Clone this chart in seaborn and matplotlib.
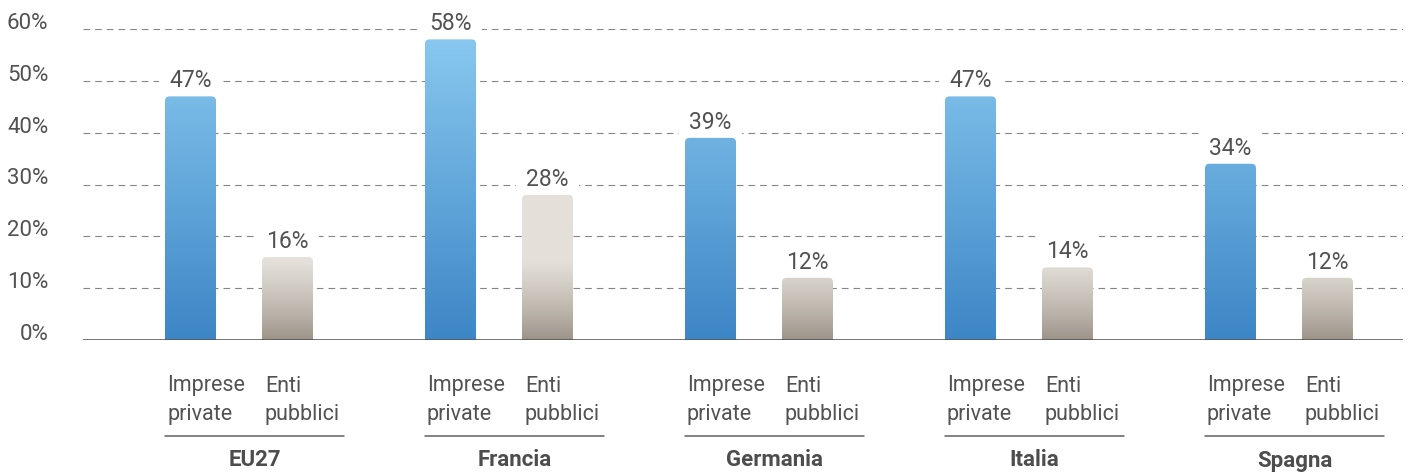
import numpy as np
import pandas as pd
import matplotlib
matplotlib.use("Agg")
import matplotlib.pyplot as plt
import matplotlib.transforms as mtransforms
from matplotlib.patches import FancyBboxPatch
from matplotlib.colors import to_rgb
from matplotlib.ticker import PercentFormatter
import seaborn as sns

# ---- data -------------------------------------------------------------
countries = ["EU27", "Francia", "Germania", "Italia", "Spagna"]
sectors = ["Imprese private", "Enti pubblici"]
sector_lines = [["Imprese", "private"], ["Enti", "pubblici"]]
private_values = [47, 58, 39, 47, 34]
public_values = [16, 28, 12, 14, 12]
y_ticks = [0, 10, 20, 30, 40, 50, 60]

df = pd.DataFrame({
    "country": countries * 2,
    "sector": [sectors[0]] * len(countries) + [sectors[1]] * len(countries),
    "value": private_values + public_values,
})

# ---- style ------------------------------------------------------------
sns.set_theme(style="white")
plt.rcParams["font.family"] = ["Roboto", "DejaVu Sans"]
TEXT = "#525252"
GRID = "#858585"

W, H = 1412, 472
fig = plt.figure(figsize=(W / 100, H / 100), dpi=100)
ax = fig.add_axes([83 / W, 132 / H, (1403 - 83) / W, (340 - 29) / H])

sns.barplot(data=df, x="country", y="value", hue="sector",
            hue_order=sectors, order=countries,
            palette=["#62a6dc", "#c9c2b8"], width=0.746, gap=0.474,
            legend=False, ax=ax, zorder=3)

XLIM = (-0.6, 4.477)
YLIM = (0, 60)

# vertical colour ramps, keyed to the value axis
def blue_ramp(v):
    lo, hi = np.array(to_rgb("#3d86c6")), np.array(to_rgb("#88c8ef"))
    t = np.clip(v / 58.0, 0, 1)[:, None]
    return lo + (hi - lo) * t

def beige_ramp(v):
    lo, hi = np.array(to_rgb("#9a9186")), np.array(to_rgb("#e4e0d9"))
    t = np.clip(v / 15.0, 0, 1)[:, None] ** 0.8
    return lo + (hi - lo) * t

ramps = [blue_ramp, beige_ramp]

# pixel scale of the data axes (for rounded corners)
px_per_x = (1403 - 83) / (XLIM[1] - XLIM[0])
px_per_y = (340 - 29) / (YLIM[1] - YLIM[0])
radius_px = 4.5
rx = radius_px / px_per_x
ry = radius_px / px_per_y

bars_by_sector = []
for container, ramp in zip(ax.containers, ramps):
    geo = []
    for rect in container.patches:
        x0, w, h = rect.get_x(), rect.get_width(), rect.get_height()
        rect.set_visible(False)
        clip = FancyBboxPatch((x0, -3 * ry), w, h + 3 * ry,
                              boxstyle=f"round,pad=0,rounding_size={rx}",
                              mutation_aspect=ry / rx,
                              facecolor="none", edgecolor="none",
                              transform=ax.transData)
        ax.add_patch(clip)
        vals = np.linspace(0, h, 300)
        img = ramp(vals)[:, None, :].repeat(2, axis=1)
        im = ax.imshow(img, origin="lower", extent=(x0, x0 + w, 0, h),
                       aspect="auto", interpolation="bilinear", zorder=3)
        im.set_clip_path(clip)
        geo.append((x0, w, h))
        ax.annotate(f"{h:.0f}%", (x0 + w / 2, h), xytext=(0, 6.5),
                    textcoords="offset points", ha="center", va="baseline",
                    fontsize=16.5, color=TEXT, zorder=2,
                    bbox=dict(boxstyle="square,pad=0.45", fc="white", ec="none"))
    bars_by_sector.append(geo)

ax.set_xlim(*XLIM)
ax.set_ylim(*YLIM)

# dashed horizontal grid, solid zero line
ax.set_yticks(y_ticks)
ax.yaxis.set_major_formatter(PercentFormatter(decimals=0))
for v in y_ticks[1:]:
    ax.axhline(v, color=GRID, lw=0.8, ls=(0, (6, 4.5)), zorder=1)
ax.axhline(0, color="#555555", lw=1.15, zorder=4)
ax.tick_params(axis="y", length=0, pad=25, labelsize=16, labelcolor=TEXT)
for lab in ax.get_yticklabels():
    lab.set_va("baseline")
ax.set_xticks([])
ax.set_xlabel("")
ax.set_ylabel("")
for s in ax.spines.values():
    s.set_visible(False)

# category labels under each pair of bars
def fig_y(px):
    return 1 - px / H

trans = mtransforms.blended_transform_factory(ax.transData, fig.transFigure)
line_w = 82 / px_per_x
for i, country in enumerate(countries):
    xp = bars_by_sector[0][i][0]
    xe = bars_by_sector[1][i][0]
    for xs, lines, dx in ((xp, sector_lines[0], 2), (xe, sector_lines[1], 3)):
        for text, ypx in zip(lines, (391.5, 420)):
            fig.text(xs + dx / px_per_x, fig_y(ypx), text, transform=trans,
                     ha="left", va="baseline", fontsize=15.5, color=TEXT)
    x_end = xe + line_w
    fig.add_artist(plt.Line2D([xp, x_end], [fig_y(435.7)] * 2,
                              transform=trans, color="#5f5f5f", lw=1.1))
    fig.text((xp + x_end) / 2, fig_y(466.5), country, transform=trans,
             ha="center", va="baseline", fontsize=16, fontweight="bold",
             color="#4d4d4d")

fig.savefig("out.png", dpi=100)
